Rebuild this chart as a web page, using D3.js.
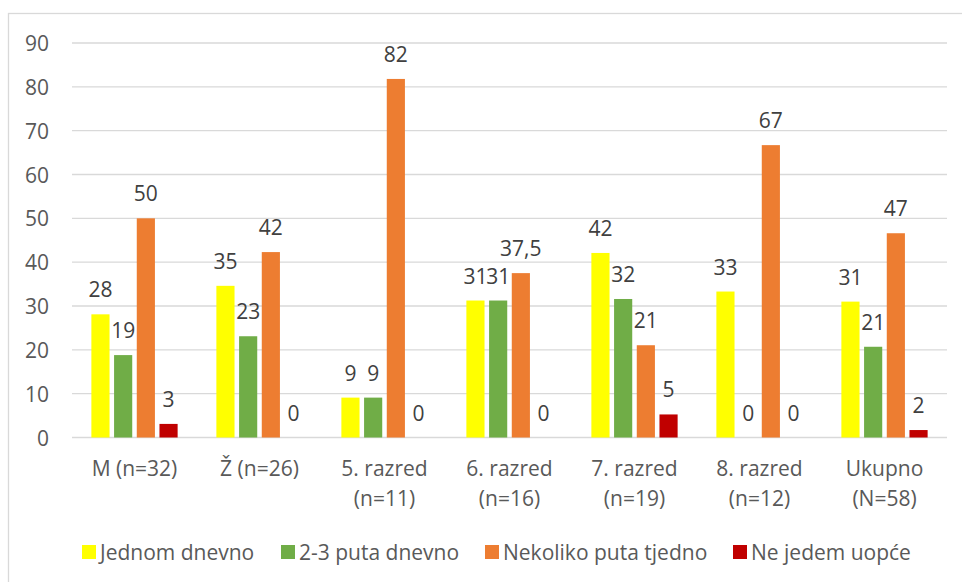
<!DOCTYPE html>
<html>
<head>
<meta charset="utf-8">
<script src="https://cdn.jsdelivr.net/npm/d3@7"></script>
<style>
  body { margin: 0; background: #fff; }
  text { font-family: "Open Sans", Lato, sans-serif; }
</style>
</head>
<body>
<div id="chart"></div>
<script>
// DATA //
const categories = [["M (n=32)"], ["Ž (n=26)"], ["5. razred", "(n=11)"], ["6. razred", "(n=16)"],
                    ["7. razred", "(n=19)"], ["8. razred", "(n=12)"], ["Ukupno", "(N=58)"]];
const seriesNames = ["Jednom dnevno", "2-3 puta dnevno", "Nekoliko puta tjedno", "Ne jedem uopće"];
const seriesColors = ["#FFFF00", "#70AD47", "#ED7D31", "#C00000"];

// bar heights, one array per series (one value per category)
const jednomDnevno   = [28.1, 34.6, 9.1, 31.25, 42.1, 33.3, 31.0];
const dvaTriPuta     = [18.8, 23.1, 9.1, 31.25, 31.6, 0, 20.7];
const nekolikoPuta   = [50, 42.3, 81.8, 37.5, 21.05, 66.7, 46.6];
const neJedemUopce   = [3.1, 0, 0, 0, 5.26, 0, 1.7];
// printed data labels
const jednomLabels   = ["28", "35", "9", "31", "42", "33", "31"];
const dvaTriLabels   = ["19", "23", "9", "31", "32", "0", "21"];
const nekolikoLabels = ["50", "42", "82", "37,5", "21", "67", "47"];
const neJedemLabels  = ["3", "0", "0", "0", "5", "0", "2"];
const yTicks = [0, 10, 20, 30, 40, 50, 60, 70, 80, 90];

const seriesValues = [jednomDnevno, dvaTriPuta, nekolikoPuta, neJedemUopce];
const seriesLabels = [jednomLabels, dvaTriLabels, nekolikoLabels, neJedemLabels];

// DIMENSIONS //
const W = 962, H = 582;
const plot = {left: 72, right: 947, top: 43, bottom: 437.5};
const fs = 21;

const svg = d3.select("#chart").append("svg")
    .attr("width", W).attr("height", H);

// chart border
svg.append("rect")
    .attr("x", 8.5).attr("y", 13.5)
    .attr("width", W + 10).attr("height", H + 10)
    .attr("fill", "none").attr("stroke", "#D9D9D9").attr("stroke-width", 1.3);

// SCALES //
const yScale = d3.scaleLinear().domain([0, 90]).range([plot.bottom, plot.top]);

const x0 = d3.scaleBand()
    .domain(d3.range(categories.length))
    .range([plot.left, plot.right])
    .paddingInner(0.31).paddingOuter(0.155);

const x1 = d3.scaleBand()
    .domain(d3.range(seriesNames.length))
    .range([0, x0.bandwidth()])
    .paddingInner(0.2);

// GRID + Y AXIS //
svg.append("g").selectAll("line").data(yTicks).join("line")
    .attr("x1", plot.left).attr("x2", plot.right)
    .attr("y1", d => yScale(d)).attr("y2", d => yScale(d))
    .attr("stroke", "#D9D9D9").attr("stroke-width", 1.3);

svg.append("g").selectAll("text").data(yTicks).join("text")
    .attr("x", 49).attr("y", d => yScale(d))
    .attr("text-anchor", "end").attr("dominant-baseline", "central")
    .attr("font-size", fs).attr("fill", "#595959")
    .text(d => d);

// BARS //
const groups = svg.append("g").selectAll("g").data(categories).join("g")
    .attr("transform", (d, i) => `translate(${x0(i)},0)`);

groups.each(function(cat, ci) {
  const g = d3.select(this);
  seriesNames.forEach((s, si) => {
    const v = seriesValues[si][ci];
    g.append("rect")
        .attr("x", x1(si)).attr("width", x1.bandwidth())
        .attr("y", yScale(v)).attr("height", plot.bottom - yScale(v))
        .attr("fill", seriesColors[si]);
    g.append("text")
        .attr("x", x1(si) + x1.bandwidth() / 2)
        .attr("y", yScale(v) - 17)
        .attr("text-anchor", "middle")
        .attr("font-size", fs).attr("fill", "#404040")
        .text(seriesLabels[si][ci]);
  });
});

// X AXIS LABELS //
svg.append("g").selectAll("text").data(categories).join("text")
    .attr("x", (d, i) => x0(i) + x0.bandwidth() / 2)
    .attr("y", 468)
    .attr("text-anchor", "middle").attr("dominant-baseline", "central")
    .attr("font-size", fs).attr("fill", "#595959")
    .each(function(lines) {
      const t = d3.select(this);
      lines.forEach((l, k) => {
        t.append("tspan").attr("x", t.attr("x")).attr("dy", k === 0 ? 0 : 30).text(l);
      });
    });

// LEGEND //
const legendX = [82, 281, 485, 733];
const legend = svg.append("g").selectAll("g").data(seriesNames).join("g")
    .attr("transform", (d, i) => `translate(${legendX[i]},545)`);
legend.append("rect").attr("width", 14).attr("height", 14)
    .attr("fill", (d, i) => seriesColors[i]);
legend.append("text").attr("x", 18).attr("y", 7)
    .attr("dominant-baseline", "central")
    .attr("font-size", fs).attr("fill", "#595959")
    .text(d => d);
</script>
</body>
</html>
